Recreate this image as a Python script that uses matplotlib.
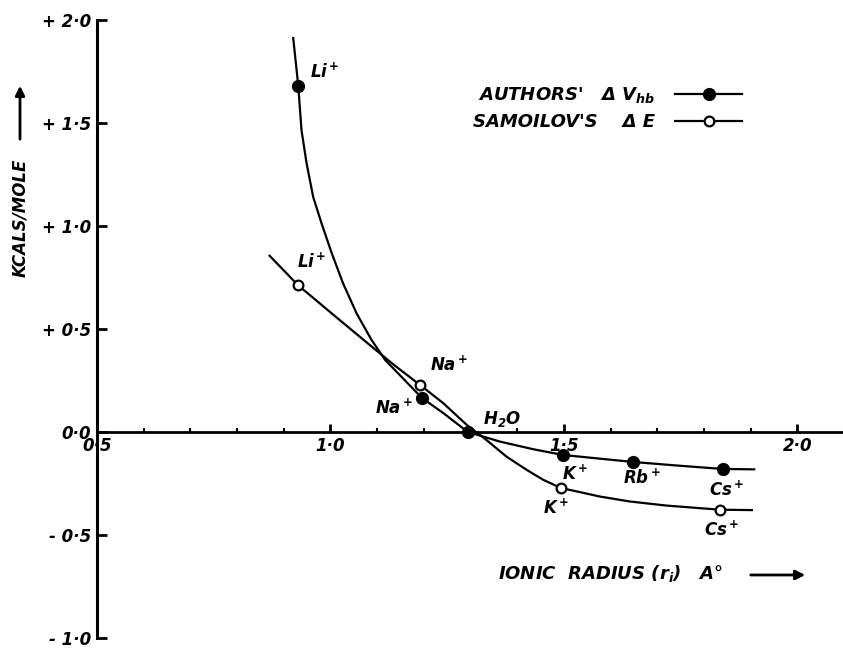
import matplotlib
matplotlib.use("Agg")
import matplotlib.pyplot as plt
from matplotlib.lines import Line2D

# ---------------- data ----------------
# Authors' Delta V_hb (filled circles)
auth_names = ["Li$^+$", "Na$^+$", "H$_2$O", "K$^+$", "Rb$^+$", "Cs$^+$"]
auth_x = [0.930, 1.196, 1.294, 1.498, 1.648, 1.840]
auth_y = [1.680, 0.165, 0.000, -0.112, -0.146, -0.180]
# hand-drawn curve through the authors' points (traced)
auth_curve_x = [0.920, 0.931, 0.938, 0.949, 0.963, 0.981, 1.003, 1.027, 1.056,
                1.088, 1.117, 1.152, 1.196, 1.242, 1.294, 1.363, 1.434, 1.498,
                1.577, 1.648, 1.740, 1.840, 1.910]
auth_curve_y = [1.919, 1.684, 1.466, 1.304, 1.142, 1.013, 0.867, 0.722, 0.576,
                0.447, 0.350, 0.268, 0.165, 0.091, 0.000, -0.047, -0.084, -0.112,
                -0.130, -0.146, -0.163, -0.180, -0.182]

# Samoilov's Delta E (open circles)
sam_names = ["Li$^+$", "Na$^+$", "K$^+$", "Cs$^+$"]
sam_x = [0.930, 1.192, 1.493, 1.834]
sam_y = [0.714, 0.228, -0.272, -0.378]
sam_curve_x = [0.868, 0.930, 1.010, 1.095, 1.138, 1.192, 1.242, 1.292, 1.334,
               1.377, 1.420, 1.456, 1.493, 1.577, 1.641, 1.720, 1.834, 1.905]
sam_curve_y = [0.860, 0.714, 0.562, 0.402, 0.322, 0.228, 0.139, 0.034, -0.039,
               -0.120, -0.184, -0.233, -0.272, -0.314, -0.338, -0.358, -0.378, -0.380]

y_ticks = [-1.0, -0.5, 0.0, 0.5, 1.0, 1.5, 2.0]
y_tick_labels = ["- 1·0", "- 0·5", "0·0", "+ 0·5", "+ 1·0", "+ 1·5", "+ 2·0"]
x_ticks = [0.5, 1.0, 1.5, 2.0]
x_tick_labels = ["0·5", "1·0", "1·5", "2·0"]
x_minor = [0.6, 0.7, 0.8, 0.9, 1.1, 1.2, 1.3, 1.4, 1.6, 1.7, 1.8, 1.9]

# label offsets (pixels) relative to each point
auth_offsets = [(12, 14), (-47, -10), (15, 13), (-1, -19), (-10, -16), (-14, -21)]
sam_offsets = [(-1, 23), (10, 20), (-18, -20), (-16, -20)]

# ---------------- style ----------------
plt.rcParams["font.family"] = ["DejaVu Sans"]
plt.rcParams["font.weight"] = "bold"
plt.rcParams["font.style"] = "italic"
plt.rcParams["mathtext.fontset"] = "custom"
plt.rcParams["mathtext.rm"] = "DejaVu Sans:bold:italic"
plt.rcParams["mathtext.it"] = "DejaVu Sans:bold:italic"
plt.rcParams["mathtext.bf"] = "DejaVu Sans:bold:italic"
plt.rcParams["mathtext.sf"] = "DejaVu Sans:bold:italic"

W, H = 843, 651
fig = plt.figure(figsize=(W / 100, H / 100), dpi=100)
ax = fig.add_axes([97 / W, 3 / H, 747 / W, 638 / H])
ax.set_xlim(0.5, 2.1)
ax.set_ylim(-1.05, 2.05)

for s in ["top", "right"]:
    ax.spines[s].set_visible(False)
ax.spines["bottom"].set_position(("data", 0))
ax.spines["left"].set_bounds(-1.0, 2.0)
ax.spines["left"].set_linewidth(2.2)
ax.spines["bottom"].set_linewidth(2.0)

ax.set_yticks(y_ticks)
ax.set_yticklabels(y_tick_labels, fontsize=12, fontweight="bold", style="italic")
ax.set_xticks(x_ticks)
ax.set_xticklabels(x_tick_labels, fontsize=12, fontweight="bold", style="italic")
ax.set_xticks(x_minor, minor=True)
ax.tick_params(axis="y", direction="in", length=7, width=2, pad=4)
ax.tick_params(axis="x", which="major", direction="in", length=6, width=2, pad=4)
ax.tick_params(axis="x", which="minor", direction="in", length=3, width=1.5)
for lbl in ax.get_xticklabels():
    lbl.set_bbox(dict(facecolor="white", edgecolor="none", pad=1))

lw = 1.6
ax.plot(auth_curve_x, auth_curve_y, color="black", lw=lw, solid_capstyle="butt",
        solid_joinstyle="round")
ax.plot(sam_curve_x, sam_curve_y, color="black", lw=lw, solid_capstyle="butt",
        solid_joinstyle="round")
ax.plot(auth_x, auth_y, "o", color="black", markersize=8.5, zorder=5)
ax.plot(sam_x, sam_y, "o", markerfacecolor="white", markeredgecolor="black",
        markersize=7, markeredgewidth=1.6, zorder=5)

for name, x, y, off in zip(auth_names, auth_x, auth_y, auth_offsets):
    ax.annotate(name, (x, y), xytext=off, textcoords="offset pixels",
                ha="left", va="center", fontsize=12, fontweight="bold", style="italic")
for name, x, y, off in zip(sam_names, sam_x, sam_y, sam_offsets):
    ax.annotate(name, (x, y), xytext=off, textcoords="offset pixels",
                ha="left", va="center", fontsize=12, fontweight="bold", style="italic")

# legend
handles = [
    Line2D([], [], color="black", lw=lw, marker="o", markersize=8.5),
    Line2D([], [], color="black", lw=lw, marker="o", markersize=7,
           markerfacecolor="white", markeredgewidth=1.6),
]
labels = ["AUTHORS'   Δ $V_{hb}$", "SAMOILOV'S    Δ E"]
ax.legend(handles, labels, loc="upper right", bbox_to_anchor=(742 / W, 1 - 85 / H),
          bbox_transform=fig.transFigure, markerfirst=False, frameon=False,
          handlelength=3.7, handletextpad=1.1, labelspacing=0.45, borderpad=0,
          borderaxespad=0, prop=dict(size=13, weight="bold", style="italic"))

# axis titles with arrows
fig.text(20 / W, 1 - 218 / H, "KCALS/MOLE", rotation=90, ha="center", va="center",
         fontsize=12, fontweight="bold", style="italic")
ax.annotate("", xy=(20 / W, 1 - 83 / H), xytext=(20 / W, 1 - 142 / H),
            xycoords="figure fraction", textcoords="figure fraction",
            arrowprops=dict(arrowstyle="-|>", lw=2, color="black", mutation_scale=14))
fig.text(498 / W, 1 - 574 / H, "IONIC  RADIUS (r$_i$)   A°", ha="left", va="center",
         fontsize=13, fontweight="bold", style="italic")
ax.annotate("", xy=(808 / W, 1 - 575 / H), xytext=(748 / W, 1 - 575 / H),
            xycoords="figure fraction", textcoords="figure fraction",
            arrowprops=dict(arrowstyle="-|>", lw=2, color="black", mutation_scale=14))

fig.savefig("out.png", dpi=100)
